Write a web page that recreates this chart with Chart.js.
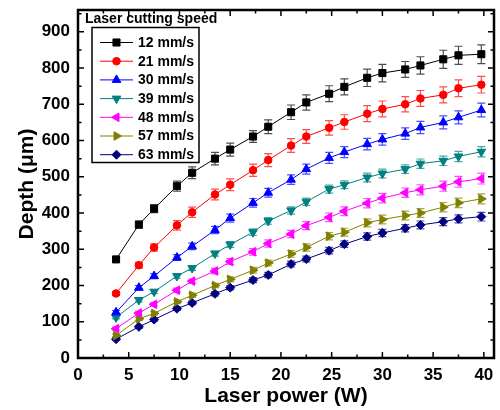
<!DOCTYPE html>
<html>
<head>
<meta charset="utf-8">
<script src="https://cdn.jsdelivr.net/npm/chart.js@4"></script>
<style>
  body { margin: 0; background: #fff; }
</style>
</head>
<body>
<canvas id="depth" width="500" height="410"></canvas>
<script>
// laser power (W)
const power = [3.75, 6, 7.5, 9.75, 11.25, 13.5, 15, 17.25, 18.75, 21, 22.5, 24.75, 26.25, 28.5, 30, 32.25, 33.75, 36, 37.5, 39.75];

// depth (um) per cutting speed
const d12 = [272, 368, 412, 474, 511, 550, 575, 611, 638, 678, 705, 729, 748, 773, 786, 796, 807, 824, 835, 838];
const d21 = [178, 256, 305, 366, 402, 451, 478, 518, 546, 586, 611, 635, 651, 674, 687, 700, 716, 726, 744, 754];
const d30 = [126, 194, 226, 277, 308, 353, 386, 428, 456, 492, 521, 552, 568, 590, 603, 619, 636, 650, 664, 684];
const d39 = [112, 160, 183, 226, 248, 288, 313, 347, 378, 407, 431, 466, 478, 498, 509, 521, 536, 544, 556, 569];
const d48 = [81, 124, 148, 187, 212, 240, 266, 293, 316, 342, 365, 388, 405, 427, 441, 456, 464, 474, 486, 495];
const d57 = [62, 108, 123, 155, 173, 200, 217, 242, 262, 287, 305, 336, 347, 373, 382, 393, 400, 416, 428, 439];
const d63 = [52, 86, 106, 136, 152, 177, 194, 215, 229, 259, 273, 296, 314, 335, 345, 358, 367, 376, 384, 390];

// error (+/-)
const e12 = [5, 10, 11, 14, 16, 17, 18, 16, 19, 20, 21, 22, 22, 24, 24, 22, 24, 25, 25, 26];
const e21 = [5, 8, 10, 13, 14, 15, 16, 17, 18, 19, 19, 20, 20, 22, 22, 21, 22, 22, 23, 23];
const e30 = [5, 6, 7, 8, 9, 10, 11, 12, 12, 13, 14, 15, 15, 16, 16, 16, 17, 18, 18, 19];
const e39 = [4, 5, 5, 6, 6, 7, 8, 9, 9, 10, 10, 11, 11, 12, 12, 12, 13, 13, 14, 14];
const e48 = [4, 5, 5, 6, 6, 7, 8, 9, 10, 10, 11, 12, 12, 13, 13, 13, 14, 14, 15, 15];
const e57 = [3, 4, 5, 5, 6, 6, 7, 8, 8, 9, 10, 10, 11, 11, 12, 12, 12, 13, 13, 14];
const e63 = [3, 4, 4, 5, 5, 6, 6, 7, 7, 8, 8, 9, 9, 10, 10, 10, 11, 11, 11, 12];

const speeds = ['12 mm/s', '21 mm/s', '30 mm/s', '39 mm/s', '48 mm/s', '57 mm/s', '63 mm/s'];
const depths = [d12, d21, d30, d39, d48, d57, d63];
const errors = [e12, e21, e30, e39, e48, e57, e63];

const xTicks = [0, 5, 10, 15, 20, 25, 30, 35, 40];
const yTicks = [0, 100, 200, 300, 400, 500, 600, 700, 800, 900];

const colors = ['#000000', '#FF0000', '#0000FF', '#008080', '#FF00FF', '#808000', '#000080'];
const errColors = ['rgba(0,0,0,0.7)', 'rgba(255,0,0,0.7)', 'rgba(0,0,255,0.7)', 'rgba(0,128,128,0.7)',
                   'rgba(255,0,255,0.7)', 'rgba(128,128,0,0.7)', 'rgba(0,0,128,0.7)'];
const styles = ['rect', 'circle', 'triangle', 'triangle', 'triangle', 'triangle', 'rectRot'];
const rotations = [0, 0, 0, 180, 270, 90, 0];
const radii = [5, 3.8, 5, 5, 5, 5, 4.5];

const FONT = "'Liberation Sans', Arial, sans-serif";
Chart.defaults.font.family = FONT;
Chart.defaults.color = '#000';

const datasets = speeds.map((s, i) => ({
  label: s,
  data: power.map((p, j) => ({x: p, y: depths[i][j]})),
  err: errors[i],
  errColor: errColors[i],
  borderColor: colors[i],
  backgroundColor: colors[i],
  borderWidth: 1,
  pointStyle: styles[i],
  pointRotation: rotations[i],
  pointRadius: radii[i],
  pointBorderWidth: 1,
  tension: 0
}));

// error bars, drawn under the markers
const errorBars = {
  id: 'errorBars',
  beforeDatasetsDraw(chart) {
    const {ctx, scales: {x, y}} = chart;
    chart.data.datasets.forEach(ds => {
      ctx.save();
      ctx.strokeStyle = ds.errColor;
      ctx.lineWidth = 1.2;
      ds.data.forEach((p, j) => {
        const e = ds.err[j];
        const px = x.getPixelForValue(p.x);
        const top = y.getPixelForValue(p.y + e);
        const bot = y.getPixelForValue(p.y - e);
        ctx.beginPath();
        ctx.moveTo(px, top); ctx.lineTo(px, bot);
        ctx.moveTo(px - 4, top); ctx.lineTo(px + 4, top);
        ctx.moveTo(px - 4, bot); ctx.lineTo(px + 4, bot);
        ctx.stroke();
      });
      ctx.restore();
    });
  }
};

// box frame with inward ticks on all sides
const frame = {
  id: 'frame',
  afterDraw(chart) {
    const {ctx, chartArea: a, scales: {x, y}} = chart;
    ctx.save();
    ctx.strokeStyle = '#000';
    ctx.lineWidth = 1.5;
    ctx.beginPath();
    for (let v = 0; v <= 41; v += 2.5) {
      const px = x.getPixelForValue(v);
      const len = (v % 5 === 0) ? 6 : 3.5;
      ctx.moveTo(px, a.bottom); ctx.lineTo(px, a.bottom - len);
      ctx.moveTo(px, a.top); ctx.lineTo(px, a.top + len);
    }
    for (let v = 0; v <= 960; v += 50) {
      const py = y.getPixelForValue(v);
      const len = (v % 100 === 0) ? 6 : 3.5;
      ctx.moveTo(a.left, py); ctx.lineTo(a.left + len, py);
      ctx.moveTo(a.right, py); ctx.lineTo(a.right - len, py);
    }
    ctx.stroke();
    ctx.lineWidth = 2.5;
    ctx.strokeRect(a.left, a.top, a.right - a.left, a.bottom - a.top);
    ctx.restore();
  }
};

// legend box with title above it
const legendBox = {
  id: 'legendBox',
  afterDraw(chart) {
    const {ctx} = chart;
    ctx.save();
    ctx.fillStyle = '#000';
    ctx.font = 'bold 14px ' + FONT;
    ctx.textBaseline = 'middle';
    ctx.fillText('Laser cutting speed', 85, 19);
    ctx.lineWidth = 1.5;
    ctx.strokeStyle = '#000';
    ctx.strokeRect(92, 27.5, 107, 135);
    chart.data.datasets.forEach((ds, i) => {
      const cy = 42.5 + i * 18.7;
      ctx.strokeStyle = ds.borderColor;
      ctx.lineWidth = 1;
      ctx.beginPath();
      ctx.moveTo(100, cy); ctx.lineTo(133, cy);
      ctx.stroke();
      ctx.fillStyle = ds.backgroundColor;
      Chart.helpers.drawPoint(ctx, {
        pointStyle: ds.pointStyle, rotation: ds.pointRotation,
        radius: ds.pointRadius, borderWidth: 1
      }, 116.5, cy);
      ctx.fillStyle = '#000';
      ctx.fillText(ds.label, 138, cy + 0.5);
    });
    ctx.restore();
  }
};

new Chart(document.getElementById('depth').getContext('2d'), {
  type: 'line',
  data: {datasets: datasets},
  options: {
    responsive: false,
    animation: false,
    layout: {padding: {top: 10, right: 2, left: 0, bottom: 0}},
    plugins: {
      legend: {display: false},
      tooltip: {enabled: false}
    },
    scales: {
      x: {
        type: 'linear',
        min: 0,
        max: 41,
        grid: {display: false, drawTicks: false},
        border: {display: false},
        afterFit(s) { s.height = 52; s.paddingLeft = 0; s.paddingRight = 0; },
        afterBuildTicks(s) { s.ticks = xTicks.map(v => ({value: v})); },
        ticks: {padding: 7, font: {size: 17, weight: 'bold'}},
        title: {display: true, text: 'Laser power (W)', font: {size: 21, weight: 'bold'}, padding: {top: 0, bottom: 1}}
      },
      y: {
        min: 0,
        max: 960,
        grid: {display: false, drawTicks: false},
        border: {display: false},
        afterFit(s) { s.width = 78; s.paddingTop = 0; s.paddingBottom = 0; },
        afterBuildTicks(s) { s.ticks = yTicks.map(v => ({value: v})); },
        ticks: {padding: 8, font: {size: 17, weight: 'bold'}},
        title: {display: true, text: 'Depth (\u03bcm)', font: {size: 21, weight: 'bold'}, padding: {top: 15, bottom: 0}}
      }
    }
  },
  plugins: [errorBars, frame, legendBox]
});
</script>
</body>
</html>
